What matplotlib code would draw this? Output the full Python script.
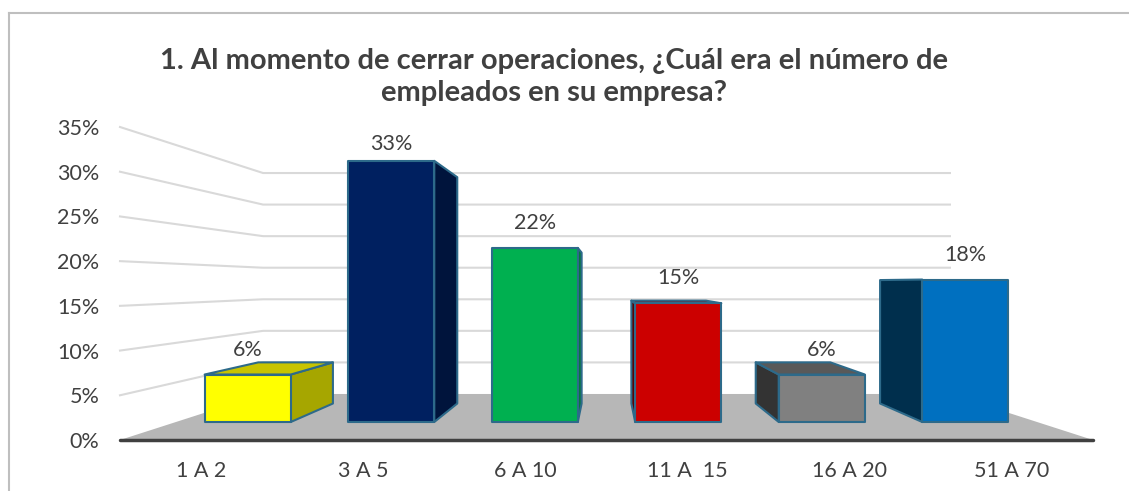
import matplotlib.pyplot as plt
from matplotlib.patches import Polygon
from matplotlib.lines import Line2D

# chart data
categories = ['1 A 2', '3 A 5', '6 A 10', '11 A  15', '16 A 20', '51 A 70']
values = [6, 33, 22, 15, 6, 18]
labels = ['6%', '33%', '22%', '15%', '6%', '18%']
yticks = [0, 5, 10, 15, 20, 25, 30, 35]

# colours per bar: front, side, top
front_cols = ['#FFFF00', '#002060', '#00B050', '#CC0000', '#808080', '#0070C0']
side_cols = ['#A6A600', '#00143C', '#007A38', '#5A0000', '#333333', '#002F4D']
top_cols = ['#C8C400', '#001848', '#008F42', '#8A0000', '#595959', '#004A80']
edge_col = '#2D6A8A'
text_col = '#404040'

plt.rcParams['font.family'] = ['Lato', 'DejaVu Sans']

fig = plt.figure(figsize=(11.29, 4.91), dpi=100)
ax = fig.add_axes([120 / 1129, 51 / 491, 973 / 1129, 313 / 491])
ax.set_xlim(0, 6)
ax.set_ylim(0, 35)
for s in ax.spines.values():
    s.set_visible(False)

# simple perspective: points shrink toward a vanishing point as depth z grows
vx, vy, k = 3.0, 17.5, 0.4165


def proj(x, v, z):
    f = 1.0 / (1.0 + k * z)
    return (vx + f * (x - vx), vy + f * (v - vy))


def poly(pts, fc, ec='none', lw=0, z=2):
    ax.add_patch(Polygon(pts, closed=True, facecolor=fc, edgecolor=ec,
                         linewidth=lw, clip_on=False, zorder=z, joinstyle='round'))


# floor
poly([proj(0, 0, 0), proj(0, 0, 1), proj(6, 0, 1), proj(6, 0, 0)], '#B7B7B7', z=1)

# gridlines on the left wall and back wall
for t in yticks[1:]:
    a, b, c = proj(0, t, 0), proj(0, t, 1), proj(6, t, 1)
    ax.plot([a[0], b[0], c[0]], [a[1], b[1], c[1]], color='#D9D9D9', lw=1.5,
            clip_on=False, zorder=0.5, solid_joinstyle='miter')

# bars
z0, z1 = 0.312, 0.73
for i, v in enumerate(values):
    x0, x1 = i + 0.2, i + 0.8
    if x1 < vx:
        poly([proj(x1, 0, z0), proj(x1, 0, z1), proj(x1, v, z1), proj(x1, v, z0)],
             side_cols[i], edge_col, 1.5, 3)
    if x0 > vx:
        poly([proj(x0, 0, z0), proj(x0, 0, z1), proj(x0, v, z1), proj(x0, v, z0)],
             side_cols[i], edge_col, 1.5, 3)
    if v < vy:
        poly([proj(x0, v, z0), proj(x0, v, z1), proj(x1, v, z1), proj(x1, v, z0)],
             top_cols[i], edge_col, 1.5, 3)
    poly([proj(x0, 0, z0), proj(x0, v, z0), proj(x1, v, z0), proj(x1, 0, z0)],
         front_cols[i], edge_col, 1.5, 4)
    lx, ly = proj(i + 0.5, v, z0)
    off = 12 if v > 30 else 18
    ax.annotate(labels[i], (lx, ly), xytext=(0, off), textcoords='offset points',
                ha='center', va='center', fontsize=15.5, color=text_col,
                annotation_clip=False, zorder=6)

# front axis line
ax.plot([0, 6], [0, 0], color='#404040', lw=2.5, clip_on=False, zorder=5,
        solid_capstyle='round')

ax.set_yticks(yticks)
ax.set_yticklabels([f'{t}%' for t in yticks])
ax.set_xticks([i + 0.5 for i in range(len(categories))])
ax.set_xticklabels(categories)
ax.tick_params(axis='y', length=0, pad=15, labelsize=15.5, labelcolor=text_col)
ax.tick_params(axis='x', length=0, pad=15, labelsize=15.5, labelcolor=text_col)

fig.text(554 / 1129, 1 - 77 / 491,
         '1. Al momento de cerrar operaciones, ¿Cuál era el número de\nempleados en su empresa?',
         ha='center', va='center', fontsize=21, fontweight='bold', color=text_col,
         linespacing=1.25)

# chart frame
fig.add_artist(Line2D([9 / 1129, 9 / 1129], [0, 1 - 13 / 491], color='#BFBFBF', lw=1.5))
fig.add_artist(Line2D([9 / 1129, 1], [1 - 13 / 491, 1 - 13 / 491], color='#BFBFBF', lw=1.5))

fig.savefig('out.png', dpi=100)
